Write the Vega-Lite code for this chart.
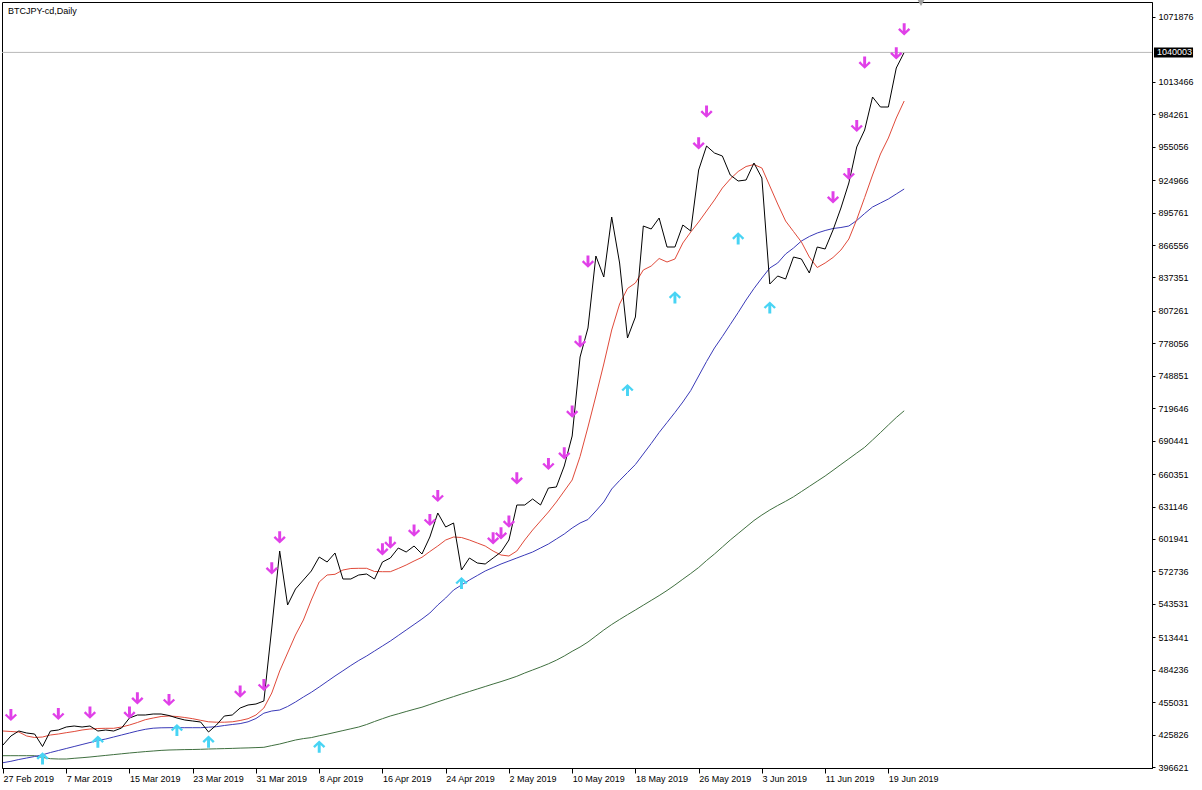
{
"$schema": "https://vega.github.io/schema/vega-lite/v6.json",
"width": 1150,
"height": 766,
"autosize": {"type": "none"},
"padding": {"left": 2, "top": 2, "right": 50, "bottom": 22},
"background": "#ffffff",
"config": {"view": {"stroke": "#000000", "strokeWidth": 1}, "font": "Liberation Sans", "axis": {"labelOverlap": false, "labelFlush": false, "labelBound": false}},
"title": {"text": "BTCJPY-cd,Daily", "anchor": "start", "frame": "group", "offset": -16, "dx": 6, "fontSize": 9, "fontWeight": "normal", "font": "Liberation Sans", "color": "#000000"},
"resolve": {"axis": {"x": "independent", "y": "independent"}},
"datasets": {
"bars": [
{"date":"2019-02-27","close":416428,"ema_fast":429033,"ema_mid":400492,"ema_slow":406795},
{"date":"2019-02-28","close":424532,"ema_fast":428583,"ema_mid":401753,"ema_slow":406795},
{"date":"2019-03-01","close":429033,"ema_fast":428133,"ema_mid":403374,"ema_slow":406795},
{"date":"2019-03-02","close":427233,"ema_fast":424532,"ema_mid":404724,"ema_slow":406795},
{"date":"2019-03-03","close":426332,"ema_fast":423181,"ema_mid":406075,"ema_slow":406795},
{"date":"2019-03-04","close":415078,"ema_fast":423631,"ema_mid":407605,"ema_slow":405174},
{"date":"2019-03-05","close":429033,"ema_fast":425432,"ema_mid":409676,"ema_slow":404094},
{"date":"2019-03-06","close":429934,"ema_fast":426332,"ema_mid":411477,"ema_slow":403824},
{"date":"2019-03-07","close":432635,"ema_fast":427503,"ema_mid":413277,"ema_slow":403824},
{"date":"2019-03-08","close":433535,"ema_fast":428583,"ema_mid":415078,"ema_slow":404454},
{"date":"2019-03-09","close":432635,"ema_fast":429934,"ema_mid":416879,"ema_slow":404994},
{"date":"2019-03-10","close":433535,"ema_fast":430834,"ema_mid":418679,"ema_slow":405624},
{"date":"2019-03-11","close":429033,"ema_fast":431284,"ema_mid":420480,"ema_slow":406345},
{"date":"2019-03-12","close":429934,"ema_fast":431464,"ema_mid":421831,"ema_slow":407065},
{"date":"2019-03-13","close":429033,"ema_fast":431464,"ema_mid":423631,"ema_slow":407785},
{"date":"2019-03-14","close":431734,"ema_fast":432635,"ema_mid":425432,"ema_slow":408505},
{"date":"2019-03-15","close":440738,"ema_fast":434435,"ema_mid":427233,"ema_slow":409226},
{"date":"2019-03-16","close":443439,"ema_fast":436686,"ema_mid":429033,"ema_slow":409856},
{"date":"2019-03-17","close":443439,"ema_fast":439207,"ema_mid":430564,"ema_slow":410486},
{"date":"2019-03-18","close":444339,"ema_fast":440738,"ema_mid":431554,"ema_slow":411026},
{"date":"2019-03-19","close":444339,"ema_fast":442088,"ema_mid":431914,"ema_slow":411567},
{"date":"2019-03-20","close":442989,"ema_fast":442538,"ema_mid":432004,"ema_slow":411927},
{"date":"2019-03-21","close":440738,"ema_fast":442088,"ema_mid":432004,"ema_slow":412107},
{"date":"2019-03-22","close":438937,"ema_fast":441188,"ema_mid":432004,"ema_slow":412287},
{"date":"2019-03-23","close":438037,"ema_fast":440107,"ema_mid":432004,"ema_slow":412377},
{"date":"2019-03-24","close":437136,"ema_fast":438667,"ema_mid":432004,"ema_slow":412557},
{"date":"2019-03-25","close":428133,"ema_fast":437316,"ema_mid":432455,"ema_slow":412827},
{"date":"2019-03-26","close":434435,"ema_fast":436956,"ema_mid":432905,"ema_slow":413007},
{"date":"2019-03-27","close":442538,"ema_fast":436956,"ema_mid":433985,"ema_slow":413187},
{"date":"2019-03-28","close":443439,"ema_fast":437316,"ema_mid":434885,"ema_slow":413367},
{"date":"2019-03-29","close":449741,"ema_fast":438487,"ema_mid":435696,"ema_slow":413637},
{"date":"2019-03-30","close":452442,"ema_fast":440107,"ema_mid":437316,"ema_slow":413817},
{"date":"2019-03-31","close":453342,"ema_fast":443439,"ema_mid":440287,"ema_slow":414088},
{"date":"2019-04-01","close":456043,"ema_fast":449741,"ema_mid":445059,"ema_slow":414358},
{"date":"2019-04-02","close":521768,"ema_fast":463246,"ema_mid":447040,"ema_slow":415888},
{"date":"2019-04-03","close":591094,"ema_fast":483054,"ema_mid":447940,"ema_slow":417329},
{"date":"2019-04-04","close":542476,"ema_fast":499260,"ema_mid":451092,"ema_slow":419130},
{"date":"2019-04-05","close":556882,"ema_fast":515466,"ema_mid":455143,"ema_slow":420930},
{"date":"2019-04-06","close":564985,"ema_fast":528971,"ema_mid":459645,"ema_slow":422191},
{"date":"2019-04-07","close":573088,"ema_fast":546978,"ema_mid":463876,"ema_slow":423091},
{"date":"2019-04-08","close":585692,"ema_fast":563184,"ema_mid":468648,"ema_slow":424712},
{"date":"2019-04-09","close":581191,"ema_fast":569486,"ema_mid":473600,"ema_slow":426152},
{"date":"2019-04-10","close":589294,"ema_fast":570117,"ema_mid":478552,"ema_slow":427773},
{"date":"2019-04-11","close":565885,"ema_fast":573988,"ema_mid":483234,"ema_slow":429393},
{"date":"2019-04-12","close":565885,"ema_fast":575338,"ema_mid":488006,"ema_slow":431014},
{"date":"2019-04-13","close":569486,"ema_fast":575519,"ema_mid":492507,"ema_slow":432635},
{"date":"2019-04-14","close":570387,"ema_fast":575519,"ema_mid":496559,"ema_slow":434885},
{"date":"2019-04-15","close":565885,"ema_fast":572637,"ema_mid":501060,"ema_slow":437586},
{"date":"2019-04-16","close":581191,"ema_fast":572457,"ema_mid":505562,"ema_slow":440107},
{"date":"2019-04-17","close":584792,"ema_fast":572457,"ema_mid":510064,"ema_slow":442538},
{"date":"2019-04-18","close":593795,"ema_fast":575338,"ema_mid":515016,"ema_slow":444519},
{"date":"2019-04-19","close":590194,"ema_fast":578490,"ema_mid":519968,"ema_slow":446590},
{"date":"2019-04-20","close":595596,"ema_fast":582091,"ema_mid":524919,"ema_slow":448571},
{"date":"2019-04-21","close":588393,"ema_fast":585422,"ema_mid":529871,"ema_slow":450461},
{"date":"2019-04-22","close":603699,"ema_fast":590644,"ema_mid":535273,"ema_slow":452892},
{"date":"2019-04-23","close":625307,"ema_fast":595596,"ema_mid":542476,"ema_slow":455323},
{"date":"2019-04-24","close":612703,"ema_fast":600998,"ema_mid":548778,"ema_slow":457664},
{"date":"2019-04-25","close":616304,"ema_fast":603699,"ema_mid":555981,"ema_slow":460005},
{"date":"2019-04-26","close":573988,"ema_fast":603249,"ema_mid":560483,"ema_slow":462346},
{"date":"2019-04-27","close":584792,"ema_fast":600998,"ema_mid":564985,"ema_slow":464597},
{"date":"2019-04-28","close":580290,"ema_fast":598297,"ema_mid":569036,"ema_slow":466848},
{"date":"2019-04-29","close":579390,"ema_fast":595596,"ema_mid":573088,"ema_slow":469098},
{"date":"2019-04-30","close":584792,"ema_fast":591094,"ema_mid":576239,"ema_slow":471349},
{"date":"2019-05-01","close":590194,"ema_fast":587493,"ema_mid":579390,"ema_slow":473510},
{"date":"2019-05-02","close":600998,"ema_fast":586593,"ema_mid":582091,"ema_slow":475851},
{"date":"2019-05-03","close":632510,"ema_fast":591094,"ema_mid":584792,"ema_slow":478282},
{"date":"2019-05-04","close":632510,"ema_fast":600998,"ema_mid":587493,"ema_slow":481253},
{"date":"2019-05-05","close":637912,"ema_fast":610002,"ema_mid":590194,"ema_slow":483954},
{"date":"2019-05-06","close":632510,"ema_fast":618105,"ema_mid":593795,"ema_slow":486655},
{"date":"2019-05-07","close":647816,"ema_fast":626208,"ema_mid":597397,"ema_slow":489536},
{"date":"2019-05-08","close":648716,"ema_fast":635211,"ema_mid":601899,"ema_slow":492777},
{"date":"2019-05-09","close":667623,"ema_fast":645115,"ema_mid":606400,"ema_slow":496559},
{"date":"2019-05-10","close":694634,"ema_fast":655019,"ema_mid":611802,"ema_slow":500790},
{"date":"2019-05-11","close":765760,"ema_fast":676177,"ema_mid":616304,"ema_slow":504662},
{"date":"2019-05-12","close":791870,"ema_fast":702737,"ema_mid":619455,"ema_slow":509164},
{"date":"2019-05-13","close":856695,"ema_fast":730647,"ema_mid":627108,"ema_slow":514566},
{"date":"2019-05-14","close":837788,"ema_fast":759458,"ema_mid":635211,"ema_slow":519968},
{"date":"2019-05-15","close":891808,"ema_fast":790070,"ema_mid":646916,"ema_slow":524919},
{"date":"2019-05-16","close":850392,"ema_fast":813478,"ema_mid":654568,"ema_slow":529421},
{"date":"2019-05-17","close":782867,"ema_fast":827434,"ema_mid":661771,"ema_slow":533743},
{"date":"2019-05-18","close":801774,"ema_fast":832386,"ema_mid":668974,"ema_slow":537974},
{"date":"2019-05-19","close":883705,"ema_fast":844090,"ema_mid":678427,"ema_slow":542296},
{"date":"2019-05-20","close":881004,"ema_fast":847691,"ema_mid":687881,"ema_slow":546618},
{"date":"2019-05-21","close":890908,"ema_fast":854444,"ema_mid":697785,"ema_slow":550939},
{"date":"2019-05-22","close":864798,"ema_fast":851293,"ema_mid":706788,"ema_slow":555531},
{"date":"2019-05-23","close":864798,"ema_fast":853994,"ema_mid":715792,"ema_slow":560483},
{"date":"2019-05-24","close":884605,"ema_fast":868399,"ema_mid":725245,"ema_slow":565705},
{"date":"2019-05-25","close":879203,"ema_fast":878303,"ema_mid":735599,"ema_slow":570837},
{"date":"2019-05-26","close":934124,"ema_fast":887306,"ema_mid":748654,"ema_slow":576239},
{"date":"2019-05-27","close":955732,"ema_fast":897210,"ema_mid":761709,"ema_slow":582541},
{"date":"2019-05-28","close":949430,"ema_fast":907114,"ema_mid":773863,"ema_slow":588393},
{"date":"2019-05-29","close":946729,"ema_fast":917918,"ema_mid":784217,"ema_slow":594696},
{"date":"2019-05-30","close":929622,"ema_fast":926021,"ema_mid":795021,"ema_slow":600998},
{"date":"2019-05-31","close":924220,"ema_fast":932773,"ema_mid":805826,"ema_slow":606850},
{"date":"2019-06-01","close":925121,"ema_fast":937275,"ema_mid":817080,"ema_slow":612703},
{"date":"2019-06-02","close":940426,"ema_fast":939076,"ema_mid":827434,"ema_slow":618555},
{"date":"2019-06-03","close":926921,"ema_fast":935925,"ema_mid":836887,"ema_slow":623507},
{"date":"2019-06-04","close":831485,"ema_fast":919719,"ema_mid":845891,"ema_slow":628008},
{"date":"2019-06-05","close":838688,"ema_fast":903512,"ema_mid":850392,"ema_slow":632060},
{"date":"2019-06-06","close":835987,"ema_fast":888207,"ema_mid":858495,"ema_slow":635841},
{"date":"2019-06-07","close":855794,"ema_fast":878753,"ema_mid":863897,"ema_slow":639893},
{"date":"2019-06-08","close":853994,"ema_fast":869300,"ema_mid":870200,"ema_slow":644575},
{"date":"2019-06-09","close":841389,"ema_fast":855794,"ema_mid":874251,"ema_slow":649256},
{"date":"2019-06-10","close":864798,"ema_fast":846341,"ema_mid":877403,"ema_slow":653938},
{"date":"2019-06-11","close":862997,"ema_fast":850392,"ema_mid":879653,"ema_slow":658620},
{"date":"2019-06-12","close":880104,"ema_fast":855344,"ema_mid":881454,"ema_slow":663752},
{"date":"2019-06-13","close":899911,"ema_fast":862097,"ema_mid":882354,"ema_slow":668974},
{"date":"2019-06-14","close":922420,"ema_fast":872001,"ema_mid":883705,"ema_slow":674106},
{"date":"2019-06-15","close":954832,"ema_fast":889557,"ema_mid":888657,"ema_slow":679328},
{"date":"2019-06-16","close":970138,"ema_fast":909365,"ema_mid":894959,"ema_slow":684460},
{"date":"2019-06-17","close":999849,"ema_fast":929622,"ema_mid":900811,"ema_slow":691032},
{"date":"2019-06-18","close":990845,"ema_fast":948529,"ema_mid":904413,"ema_slow":697695},
{"date":"2019-06-19","close":990845,"ema_fast":962935,"ema_mid":908014,"ema_slow":704537},
{"date":"2019-06-20","close":1025959,"ema_fast":980942,"ema_mid":912516,"ema_slow":711290},
{"date":"2019-06-21","close":1040003,"ema_fast":996247,"ema_mid":917018,"ema_slow":717322}
],
"sell": [
{"date":"2019-02-28","price":443439},
{"date":"2019-03-06","price":444339},
{"date":"2019-03-10","price":445509},
{"date":"2019-03-15","price":445509},
{"date":"2019-03-16","price":458474},
{"date":"2019-03-20","price":456944},
{"date":"2019-03-29","price":464417},
{"date":"2019-04-01","price":470449},
{"date":"2019-04-02","price":575519},
{"date":"2019-04-03","price":603429},
{"date":"2019-04-16","price":592625},
{"date":"2019-04-17","price":598567},
{"date":"2019-04-20","price":609371},
{"date":"2019-04-22","price":619005},
{"date":"2019-04-23","price":640613},
{"date":"2019-04-30","price":602529},
{"date":"2019-05-01","price":607030},
{"date":"2019-05-02","price":617474},
{"date":"2019-05-03","price":656549},
{"date":"2019-05-07","price":669424},
{"date":"2019-05-09","price":679058},
{"date":"2019-05-10","price":716512},
{"date":"2019-05-11","price":779536},
{"date":"2019-05-12","price":851563},
{"date":"2019-05-26","price":958163},
{"date":"2019-05-27","price":986614},
{"date":"2019-06-12","price":909545},
{"date":"2019-06-14","price":930523},
{"date":"2019-06-15","price":973739},
{"date":"2019-06-16","price":1030730},
{"date":"2019-06-20","price":1039194},
{"date":"2019-06-21","price":1060802}
],
"buy": [
{"date":"2019-03-04","price":404454},
{"date":"2019-03-11","price":419400},
{"date":"2019-03-21","price":429934},
{"date":"2019-03-25","price":419400},
{"date":"2019-04-08","price":414898},
{"date":"2019-04-26","price":562284},
{"date":"2019-05-17","price":736049},
{"date":"2019-05-23","price":819511},
{"date":"2019-05-31","price":872631},
{"date":"2019-06-04","price":810327}
],
"last": [{"date":"2019-06-21","price":1040003,"label":"1040003"}]
},
"layer": [
{
"data": {"name": "bars"},
"mark": {"type": "line", "color": "#3f6f3f", "strokeWidth": 1},
"encoding": {
"x": {"field": "date", "type": "temporal", "title": null,
"scale": {"type": "utc", "domain": [1551214670400, 1563783840000], "nice": false},
"axis": {"orient": "bottom", "title": null, "grid": false,
"values": [1551225600000,1551916800000,1552608000000,1553299200000,1553990400000,1554681600000,1555372800000,1556064000000,1556755200000,1557446400000,1558137600000,1558828800000,1559520000000,1560211200000,1560902400000],
"format": "%-d %b %Y", "labelAlign": "left", "labelBaseline": "top", "labelPadding": 1, "labelFlush": false, "labelOverlap": false,
"tickSize": 5, "tickColor": "#000000", "domainColor": "#000000", "labelColor": "#000000", "labelFontSize": 9, "labelFont": "Liberation Sans"}},
"y": {"field": "ema_slow", "type": "quantitative", "title": null,
"scale": {"domain": [395721, 1085381], "nice": false, "zero": false},
"axis": {"orient": "right", "title": null, "grid": false,
"values": [396621,425826,455031,484236,513441,543531,572736,601941,631146,660351,690441,719646,748851,778056,807261,837351,866556,895761,924966,955056,984261,1013466,1071876],
"format": "d", "labelAlign": "left", "labelBaseline": "middle", "labelPadding": 3, "labelFlush": false, "labelOverlap": false, "labelSeparation": 0,
"tickSize": 3, "tickColor": "#000000", "domainColor": "#000000", "labelColor": "#000000", "labelFontSize": 9, "labelFont": "Liberation Sans"}}
}
},
{
"data": {"name": "bars"},
"mark": {"type": "line", "color": "#3a3ab8", "strokeWidth": 1},
"encoding": {
"x": {"field": "date", "type": "temporal", "axis": null},
"y": {"field": "ema_mid", "type": "quantitative", "axis": null}
}
},
{
"data": {"name": "bars"},
"mark": {"type": "line", "color": "#e04a3a", "strokeWidth": 1},
"encoding": {
"x": {"field": "date", "type": "temporal", "axis": null},
"y": {"field": "ema_fast", "type": "quantitative", "axis": null}
}
},
{
"data": {"name": "bars"},
"mark": {"type": "line", "color": "#000000", "strokeWidth": 1},
"encoding": {
"x": {"field": "date", "type": "temporal", "axis": null},
"y": {"field": "close", "type": "quantitative", "axis": null}
}
},
{
"data": {"name": "last"},
"mark": {"type": "rule", "color": "#b8b8b8", "strokeWidth": 1},
"encoding": {
"y": {"field": "price", "type": "quantitative", "axis": null}
}
},
{
"data": {"name": "sell"},
"mark": {"type": "point", "filled": true, "color": "#e040e8", "opacity": 1, "size": 150, "strokeWidth": 0,
"shape": "M -0.24,-1 L 0.24,-1 L 0.24,0.28 L 0.72,-0.22 L 1,0.06 L 0,1 L -1,0.06 L -0.72,-0.22 L -0.24,0.28 Z"},
"encoding": {
"x": {"field": "date", "type": "temporal", "axis": null},
"y": {"field": "price", "type": "quantitative", "axis": null}
}
},
{
"data": {"name": "buy"},
"mark": {"type": "point", "filled": true, "color": "#48d4f4", "opacity": 1, "size": 150, "strokeWidth": 0,
"shape": "M -0.24,1 L 0.24,1 L 0.24,-0.28 L 0.72,0.22 L 1,-0.06 L 0,-1 L -1,-0.06 L -0.72,0.22 L -0.24,-0.28 Z"},
"encoding": {
"x": {"field": "date", "type": "temporal", "axis": null},
"y": {"field": "price", "type": "quantitative", "axis": null}
}
},
{
"data": {"name": "last"},
"mark": {"type": "rect", "color": "#000000", "clip": false, "yOffset": -5, "y2Offset": 5},
"encoding": {
"x": {"datum": 1563805440000, "type": "temporal", "axis": null},
"x2": {"datum": 1564232256000},
"y": {"field": "price", "type": "quantitative", "axis": null},
"y2": {"field": "price"}
}
},
{
"data": {"name": "last"},
"mark": {"type": "text", "color": "#ffffff", "clip": false, "align": "left", "baseline": "middle", "fontSize": 9, "font": "Liberation Sans"},
"encoding": {
"x": {"datum": 1563838272000, "type": "temporal", "axis": null},
"y": {"field": "price", "type": "quantitative", "axis": null},
"text": {"field": "label"}
}
},
{
"data": {"name": "last"},
"mark": {"type": "point", "shape": "triangle-down", "filled": true, "color": "#a0a0a0", "opacity": 1, "size": 45, "clip": false},
"encoding": {
"x": {"datum": 1561259232000, "type": "temporal", "axis": null},
"y": {"datum": 1084481, "type": "quantitative", "axis": null}
}
}
]
}
